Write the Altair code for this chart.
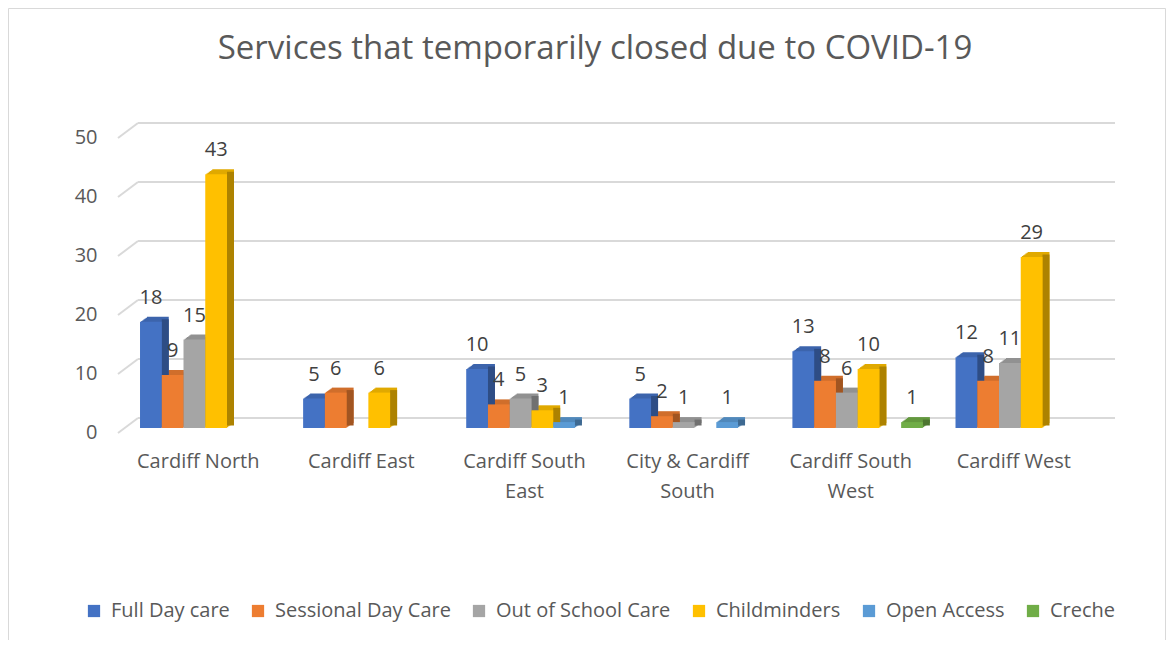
import json
import altair as alt
import pandas as pd

categories = ["Cardiff North", "Cardiff East", "Cardiff South East",
              "City & Cardiff South", "Cardiff South West", "Cardiff West"]
category_lines = {
    "Cardiff South East": ["Cardiff South", "East"],
    "City & Cardiff South": ["City & Cardiff", "South"],
    "Cardiff South West": ["Cardiff South", "West"],
}
series = ["Full Day care", "Sessional Day Care", "Out of School Care",
          "Childminders", "Open Access", "Creche"]

full_day_care = [18, 5, 10, 5, 13, 12]
sessional_day_care = [9, 6, 4, 2, 8, 8]
out_of_school_care = [15, None, 5, 1, 6, 11]
childminders = [43, 6, 3, None, 10, 29]
open_access = [None, None, 1, 1, None, None]
creche = [None, None, None, None, 1, None]

y_ticks = [0, 10, 20, 30, 40, 50]

front_colors = ["#4472C4", "#ED7D31", "#A5A5A5", "#FFC000", "#5B9BD5", "#70AD47"]
top_colors = ["#3C64AC", "#D06E2B", "#919191", "#E0A900", "#5088BB", "#63983E"]
side_colors = ["#2E4D85", "#A15521", "#707070", "#AD8200", "#3E6991", "#4C7530"]

values_by_series = [full_day_care, sessional_day_care, out_of_school_care,
                    childminders, open_access, creche]
rows = []
for s, vals, tc, sc in zip(series, values_by_series, top_colors, side_colors):
    for c, v in zip(categories, vals):
        if v is not None:
            rows.append({"category": c, "series": s, "value": v, "top": tc, "side": sc})
df = pd.DataFrame(rows)
ticks_df = pd.DataFrame({"v": y_ticks})

FONT = "Open Sans"
TEXT = "#595959"
W, H = 990, 295
P_IN, P_OUT = 0.2, 0.135
step = W / (len(categories) - P_IN + 2 * P_OUT)
band = step * (1 - P_IN)
slot = band / len(series)
DEPTH_X, DEPTH_Y = 7, 5
N_STEPS = 6

label_expr = " : ".join(
    f"datum.value == '{k}' ? {json.dumps(v)}" for k, v in category_lines.items()
) + " : datum.value"

x_enc = alt.X("category:N", sort=categories,
              scale=alt.Scale(paddingInner=P_IN, paddingOuter=P_OUT),
              axis=alt.Axis(title=None, labelAngle=0, labelFontSize=20, labelFont=FONT,
                            labelColor=TEXT, labelPadding=23, domain=False, ticks=False,
                            labelExpr=label_expr, labelLineHeight=30, labelOffset=-7,
                            grid=False))
y_enc = alt.Y("value:Q", scale=alt.Scale(domain=[0, 50]),
              axis=alt.Axis(title=None, values=y_ticks, grid=False, domain=False, ticks=False,
                            labelPadding=21, labelFontSize=20, labelFont=FONT,
                            labelColor=TEXT, labelOffset=4))


def xo(shift):
    return alt.XOffset("series:N", sort=series,
                       scale=alt.Scale(type="band", paddingInner=0, paddingOuter=0,
                                       range=[shift, shift + band]))


# top face: stepped copies shifted back along the depth direction
top_layers = []
for k in range(1, N_STEPS + 1):
    f = k / N_STEPS
    top_layers.append(
        alt.Chart(df).mark_bar(yOffset=-DEPTH_Y * f).encode(
            x=x_enc, y=y_enc, xOffset=xo(DEPTH_X * f),
            color=alt.Color("top:N", scale=None)))

# side face: narrow strip to the right of each column
side = alt.Chart(df).mark_bar(width=DEPTH_X, yOffset=-DEPTH_Y / 2).encode(
    x=x_enc, y=y_enc, xOffset=xo(slot / 2 + DEPTH_X / 2),
    color=alt.Color("side:N", scale=None))

front_base = alt.Chart(df).encode(x=x_enc, y=y_enc, xOffset=xo(0))
front = front_base.mark_bar().encode(
    color=alt.Color("series:N", sort=series,
                    scale=alt.Scale(domain=series, range=front_colors),
                    legend=alt.Legend(title=None, orient="none", direction="horizontal",
                                      legendX=-34, legendY=468, symbolType="square",
                                      symbolSize=150, symbolStrokeWidth=0,
                                      labelFontSize=20, labelFont=FONT, labelColor=TEXT,
                                      labelLimit=0, columnPadding=18, labelOffset=7))
)
labels = front_base.mark_text(baseline="alphabetic", dy=-18, fontSize=20, font=FONT,
                              color="#404040").encode(text="value:Q")
front_layer = alt.layer(front, labels)

grid_lines = alt.Chart(ticks_df).mark_rule(color="#D9D9D9", strokeWidth=2, yOffset=-10).encode(
    y=alt.Y("v:Q", scale=alt.Scale(domain=[0, 50])), x=alt.value(20), x2=alt.value(997))
grid_stubs = alt.Chart(ticks_df).mark_rule(color="#D9D9D9", strokeWidth=2,
                                           yOffset=5, y2Offset=-10).encode(
    y=alt.Y("v:Q", scale=alt.Scale(domain=[0, 50])), y2="v:Q",
    x=alt.value(0), x2=alt.value(20))

border = alt.Chart(ticks_df.head(1)).mark_rect(fill=None, stroke="#D9D9D9", strokeWidth=1).encode(
    x=alt.value(-109.5), x2=alt.value(1047.5), y=alt.value(-124.5), y2=alt.value(520))

chart = alt.layer(border, grid_stubs, grid_lines, *top_layers, side, front_layer).resolve_scale(
    color="independent", xOffset="independent"
).properties(
    width=W, height=H,
    title=alt.TitleParams("Services that temporarily closed due to COVID-19",
                          fontSize=33, font=FONT, color=TEXT, fontWeight="normal",
                          frame="group", anchor="middle", dx=-18, dy=62),
    padding={"left": 110, "top": 125, "right": 58, "bottom": 212},
    autosize=alt.AutoSizeParams(type="none"),
).configure_view(stroke=None)

chart.save("out.html", embed_options={"renderer": "svg", "actions": False})
